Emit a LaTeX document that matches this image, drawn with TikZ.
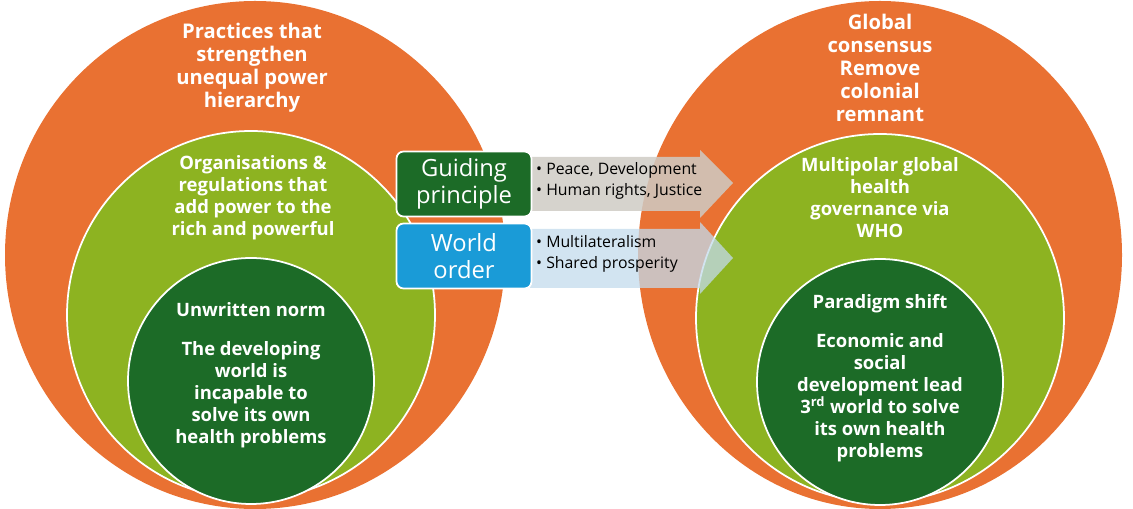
\documentclass[tikz,border=0pt]{standalone}
\usepackage{fontspec}
\setmainfont{Open Sans}
\definecolor{orng}{HTML}{E97132}
\definecolor{lgreen}{HTML}{8DB321}
\definecolor{dgreen}{HTML}{1C6B27}
\definecolor{wblue}{HTML}{1A9BD7}
\definecolor{agrey}{HTML}{CFCBC4}
\definecolor{ablue}{HTML}{C3DBEC}
\tikzset{
  ring/.style={draw=white, line width=1pt},
  lbl/.style={text=white, font=\bfseries\fontsize{11.5}{13}\selectfont, align=center},
  box/.style={rectangle, rounded corners=4pt, draw=white, line width=1pt, minimum width=2.7cm, minimum height=1.3cm, text=white, align=center, font=\fontsize{13.5}{15}\selectfont},
  bul/.style={anchor=west, font=\fontsize{9}{12}\selectfont, align=left}
}
\begin{document}
\begin{tikzpicture}[x=0.02cm, y=-0.02cm]
\useasboundingbox (0,0) rectangle (1133,509);
% left circles
\fill[orng] (255,255) ellipse (250 and 254);
\draw[ring, fill=lgreen] (251,315) circle (184);
\draw[ring, fill=dgreen] (251,381) circle (123);
% right circles
\fill[orng] (880,255) ellipse (242 and 254);
\draw[ring, fill=lgreen] (880,318) circle (184);
\draw[ring, fill=dgreen] (880,382) circle (123);
% arrows
\fill[agrey, fill opacity=0.85] (530,157) -- (700,157) -- (700,150) -- (733,183) -- (700,218) -- (700,211) -- (530,211) -- cycle;
\fill[ablue, fill opacity=0.75] (530,229) -- (700,229) -- (700,222) -- (733,258) -- (700,294) -- (700,288) -- (530,288) -- cycle;
% boxes
\node[box, fill=dgreen] (guide) at (464,184) {Guiding\\principle};
\node[box, fill=wblue] (order) at (464,256) {World\\order};
\node[bul] (g1) at (530,170) {\textbullet\ Peace, Development};
\node[bul] (g2) at (530,191) {\textbullet\ Human rights, Justice};
\node[bul] (o1) at (530,242) {\textbullet\ Multilateralism};
\node[bul] (o2) at (530,264) {\textbullet\ Shared prosperity};
% left texts
\node[lbl] (lt) at (252,68) {Practices that\\strengthen\\unequal power\\hierarchy};
\node[lbl, font=\bfseries\fontsize{10.5}{12.5}\selectfont] (lm) at (253,198) {Organisations \&\\regulations that\\add power to the\\rich and powerful};
\node[lbl, font=\bfseries\fontsize{10.5}{12.5}\selectfont] (li) at (251,375) {Unwritten norm\\[10pt]The developing\\world is\\incapable to\\solve its own\\health problems};
% right texts
\node[lbl] (rt) at (880,68) {Global\\consensus\\Remove\\colonial\\remnant};
\node[lbl, font=\bfseries\fontsize{10.5}{12.5}\selectfont] (rm) at (880,198) {Multipolar global\\health\\governance via\\WHO};
\node[lbl, font=\bfseries\fontsize{10.5}{12.5}\selectfont] (ri) at (880,378) {Paradigm shift\\[10pt]Economic and\\social\\development lead\\3\textsuperscript{rd} world to solve\\its own health\\problems};
\end{tikzpicture}
\end{document}
